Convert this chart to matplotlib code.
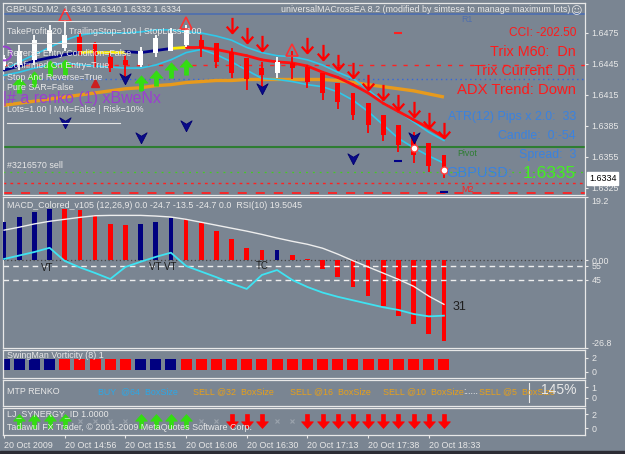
import matplotlib
matplotlib.use("Agg")
import matplotlib.pyplot as plt
import numpy as np
from matplotlib.path import Path
from matplotlib.patches import Rectangle
from matplotlib.lines import Line2D

plt.rcParams['font.family'] = ['Liberation Sans', 'DejaVu Sans']

# ---------------- data ----------------
opens  = [1.6443,1.6444,1.6449,1.6458,1.6460,1.6471,1.6465,1.6452,1.6449,1.6444,1.6456,1.6458,1.6463,1.6468,1.6465,
          1.6457,1.6451,1.6441,1.6436,1.6446,1.6442,1.6436,1.6427,1.6417,1.6407,1.6396,1.6386,1.6376,1.6369,1.6357]
highs  = [1.6454,1.6463,1.6473,1.6483,1.6488,1.6475,1.6466,1.6456,1.6454,1.6461,1.6473,1.6480,1.6483,1.6473,1.6465,
          1.6460,1.6451,1.6447,1.6452,1.6458,1.6444,1.6436,1.6427,1.6417,1.6407,1.6396,1.6386,1.6379,1.6369,1.6357]
lows   = [1.6439,1.6439,1.6444,1.6456,1.6458,1.6454,1.6442,1.6437,1.6432,1.6442,1.6452,1.6458,1.6461,1.6452,1.6441,
          1.6431,1.6420,1.6423,1.6431,1.6430,1.6422,1.6410,1.6401,1.6391,1.6378,1.6370,1.6360,1.6349,1.6340,1.6335]
closes = [1.6451,1.6458,1.6468,1.6478,1.6473,1.6458,1.6454,1.6441,1.6444,1.6458,1.6470,1.6475,1.6478,1.6460,1.6447,
          1.6436,1.6430,1.6434,1.6447,1.6441,1.6428,1.6417,1.6408,1.6396,1.6386,1.6376,1.6367,1.6357,1.6346,1.6340]

upper_band = [1.6439,1.6447,1.6454,1.6461,1.6468,1.6473,1.6475,1.6475,1.6475,1.6476,1.6478,1.6478,1.6476,1.6475,1.6472,
              1.6468,1.6461,1.6456,1.6453,1.6452,1.6449,1.6444,1.6437,1.6431,1.6420,1.6408,1.6399,1.6389,1.6379,1.6371]
lower_band = [1.6434,1.6437,1.6441,1.6444,1.6446,1.6444,1.6443,1.6442,1.6441,1.6441,1.6444,1.6449,1.6456,1.6459,1.6454,
              1.6447,1.6439,1.6431,1.6430,1.6428,1.6425,1.6423,1.6418,1.6410,1.6399,1.6386,1.6373,1.6364,1.6356,1.6349]
ma_line    = [1.6439,1.6443,1.6448,1.6451,1.6454,1.6456,1.6457,1.6457,1.6457,1.6456,1.6458,1.6460,1.6461,1.6461,1.6459,
              1.6456,1.6453,1.6449,1.6447,1.6446,1.6443,1.6437,1.6432,1.6425,1.6417,1.6407,1.6399,1.6391,1.6383,1.6374]
ma_state   = "NNNNNNYYYNNNYRRRRRRRRRRRRRRRRR"
orange_ma  = [1.6405,1.6407,1.6409,1.6411,1.6413,1.6415,1.6417,1.6419,1.6421,1.6422,1.6424,1.6425,1.6427,1.6428,1.6429,
              1.6429,1.6430,1.6430,1.6430,1.6430,1.6430,1.6430,1.6429,1.6427,1.6425,1.6423,1.6421,1.6419,1.6416,1.6413]

sell_idx   = [15,16,17,20,21,22,23,24,25,26,27,28,29]
sell_price = [1.6483,1.6473,1.6465,1.6463,1.6457,1.6447,1.6439,1.6428,1.6418,1.6408,1.6401,1.6391,1.6381]
buy_idx    = [1,2,3,4,9,10,11,12]
buy_price  = [1.6425,1.6430,1.6441,1.6442,1.6427,1.6431,1.6439,1.6442]
chev_idx   = [4,8,9,12,17,23,27]
chev_price = [1.6389,1.6431,1.6374,1.6386,1.6422,1.6354,1.6374]
tri_idx    = [4,12,19]
tri_price  = [1.6492,1.6485,1.6459]
tri2_idx   = [6]
tri2_price = [1.6427]
trade_idx  = [27,29]
trade_price= [1.6364,1.6342]
ring_idx   = [0]
ring_price = [1.6456]
rdash_idx, rdash_price = [26], [1.6475]
bdash_idx, bdash_price = [26,29], [1.6351,1.6321]

level_r1, level_red1, level_blue, level_pivot, level_open, level_red2, level_m2 = \
    1.6493, 1.6444, 1.6430, 1.6365, 1.6340, 1.6330, 1.6320
bid = 1.6334
price_ticks = [1.6475,1.6445,1.6415,1.6385,1.6355,1.6325]

macd   = [11.7,13.1,14.7,15.5,15.5,15.2,13.6,10.9,10.6,10.9,11.7,12.9,12.6,11.2,8.9,6.5,3.6,3.1,3.1,1.6,0.3,
          -2.7,-5.3,-8.3,-11.1,-14.1,-16.9,-19.6,-22.6,-24.7]
macd_col = "BBBBRRRRRBBBRRRRRRBRRRRRRRRRRR"
signal = [9.1,10.0,11.0,11.8,12.4,13.0,13.5,13.6,13.6,13.6,13.4,13.1,12.4,11.5,10.6,9.7,8.8,7.8,6.7,5.7,4.8,
          3.6,1.8,-0.2,-2.1,-4.0,-5.9,-8.0,-11.0,-13.5]
rsi    = [60,62.5,65,68,58.6,54,50,45.7,54.3,58,61.5,64.5,55,51,47,42.5,38.6,48.6,52.1,45,40,36,33,30.5,28,25.5,
          23.6,20.7,19.0,19.5]
swing_col = "BBBBRRRRRBBBRRRRRRRRRRRRRRRRRR"
synergy   = "-UUUUxxxxUUUUxxDDDxxDDDDDDDDDD"
time_idx    = [0,4,8,12,16,20,24,28]
time_labels = ["20 Oct 2009","20 Oct 14:56","20 Oct 15:51","20 Oct 16:06","20 Oct 16:30",
               "20 Oct 17:13","20 Oct 17:38","20 Oct 18:33"]

# ---------------- layout ----------------
W, H = 625, 454
BG = '#7a8592'
FG = '#e8e8e8'
fig = plt.figure(figsize=(W/100, H/100), dpi=100)
fig.patch.set_facecolor(BG)

def rect(x0, y0, x1, y1):
    return [x0/W, 1-y1/H, (x1-x0)/W, (y1-y0)/H]

def T(x, y, s, **kw):
    kw.setdefault('color', FG)
    kw.setdefault('fontsize', 6.4)
    kw.setdefault('va', 'center')
    return fig.text(x/W, 1-y/H, s, **kw)

def right_ticks(ax):
    ax.yaxis.tick_right()
    ax.tick_params(axis='y', left=False, labelleft=False, right=True, labelright=True,
                   colors=FG, labelsize=6.4, length=2, width=0.8, pad=2.5)

ax_main = fig.add_axes(rect(3, 3, 585, 195))
ax_macd = fig.add_axes(rect(3, 197, 585, 348))
ax_sw   = fig.add_axes(rect(3, 350, 585, 378))
ax_rk   = fig.add_axes(rect(3, 380, 585, 406))
ax_lj   = fig.add_axes(rect(3, 408, 585, 435))
XL = (-0.07, 38.3)
for ax in (ax_main, ax_macd, ax_sw, ax_rk, ax_lj):
    ax.set_facecolor(BG)
    ax.set_xlim(XL)
    for s in ax.spines.values():
        s.set_color(FG); s.set_linewidth(0.9)
    ax.tick_params(axis='x', bottom=False, labelbottom=False)
    right_ticks(ax)

x = np.arange(len(opens))

# ---- main price chart ----
ax = ax_main
ax.set_ylim(1.63182, 1.65040)
ax.set_yticks(price_ticks)
ax.set_yticklabels([f"{p:.4f}" for p in price_ticks])
ax.axhline(level_r1, color='#4f6fae', lw=1.3, zorder=1)
ax.axhline(level_red1, color='#ff2020', lw=1.0, ls=(0, (3, 5)), zorder=1)
ax.axhline(level_blue, color='#3366dd', lw=1.0, ls=(0, (1, 2.5)), zorder=1)
ax.axhline(level_pivot, color='#2e7d32', lw=1.5, zorder=1)
ax.axhline(level_open, color='#44cc22', lw=0.9, ls=(0, (1.5, 4)), zorder=1)
ax.axhline(level_red2, color='#ff2020', lw=1.0, ls=(0, (2, 3)), zorder=1)
ax.axhline(level_m2, color='#ff2020', lw=1.3, ls=(0, (5, 5)), zorder=1)

ax.plot(x, orange_ma, color='#e89a1c', lw=2.4, zorder=2, solid_capstyle='butt')
ax.plot(x, upper_band, color='#2fc8ea', lw=1.2, zorder=3)
ax.plot(x, lower_band, color='#2fc8ea', lw=1.2, zorder=3)
state_col = {'N': '#000088', 'Y': '#ffee00', 'R': '#ff1010'}
for i in range(len(x)-1):
    ax.plot([x[i], x[i+1]], [ma_line[i], ma_line[i+1]], color=state_col[ma_state[i+1]],
            lw=2.0, zorder=3, solid_capstyle='round')

for i in range(len(x)):
    up = closes[i] >= opens[i]
    col = 'white' if up else '#ff0000'
    ax.vlines(x[i], lows[i], highs[i], color=col, lw=1.3, zorder=4)
    ax.bar(x[i], max(abs(closes[i]-opens[i]), 0.00008), bottom=min(opens[i], closes[i]),
           width=0.32, color=col, linewidth=0, zorder=5)

down_path = Path([(0, 1), (0, -1), (-0.75, -0.15), (0, -1), (0.75, -0.15)],
                 [Path.MOVETO, Path.LINETO, Path.MOVETO, Path.LINETO, Path.LINETO])
up_fill = Path([(-0.28, -1), (0.28, -1), (0.28, 0.05), (0.85, 0.05), (0, 1), (-0.85, 0.05),
                (-0.28, 0.05), (-0.28, -1)])
down_fill = Path([(-0.28, 1), (0.28, 1), (0.28, -0.05), (0.85, -0.05), (0, -1), (-0.85, -0.05),
                  (-0.28, -0.05), (-0.28, 1)])
chev = Path([(0, -1), (0.9, 0.75), (0, 0.2), (-0.9, 0.75), (0, -1)])

ax.plot(sell_idx, sell_price, ls='none', marker=down_path, ms=11, mec='#ff0000', mfc='none', mew=1.6, zorder=6)
ax.plot(buy_idx, buy_price, ls='none', marker=up_fill, ms=11, mec='#33dd11', mfc='#33dd11', mew=0.5, zorder=6)
ax.plot(chev_idx, chev_price, ls='none', marker=chev, ms=9, mec='#000070', mfc='#0a0a8a', mew=0.6, zorder=6)
ax.plot(tri_idx, tri_price, ls='none', marker='^', ms=8, mec='#ff3030', mfc='none', mew=1.2, zorder=6)
ax.plot(tri2_idx, tri2_price, ls='none', marker='^', ms=6, mec='#cc2020', mfc='#cc2020', zorder=6)
ax.plot(trade_idx, trade_price, ls='none', marker='o', ms=5, mec='#ff4040', mfc='white', mew=1.0, zorder=7)
ax.plot(ring_idx, ring_price, ls='none', marker='o', ms=10, mec='#9a40d0', mfc='none', mew=1.4, zorder=7)
ax.plot(rdash_idx, rdash_price, ls='none', marker='_', ms=6, mec='#ff2020', mew=1.5, zorder=6)
ax.plot(bdash_idx, bdash_price, ls='none', marker='_', ms=6, mec='#000088', mew=1.5, zorder=6)

ax.annotate(f"{bid:.4f}", xy=(1, bid), xycoords=('axes fraction', 'data'), xytext=(3, 0),
            textcoords='offset points', va='center', ha='left', fontsize=6.4, color='black',
            bbox=dict(boxstyle='square,pad=0.2', fc='white', ec='white'), annotation_clip=False)

# ---- MACD / RSI ----
ax = ax_macd
ax.set_ylim(-26.8, 19.2)
cmap = {'B': '#000080', 'R': '#ff0000'}
ax.bar(x, macd, width=0.3, color=[cmap[c] for c in macd_col], linewidth=0, zorder=3)
ax.axhline(0, color='#454545', lw=0.9, ls=(0, (1, 2)), zorder=2)
ax.plot(x, signal, color='#eeeeee', lw=1.0, zorder=4)
ax_rsi = ax.twinx()
ax_rsi.set_xlim(XL)
ax_rsi.set_ylim(-3.6, 104.3)
for s in ax_rsi.spines.values():
    s.set_visible(False)
ax_rsi.axhline(55, color='#eeeeee', lw=1.0, ls=(0, (4, 3)), zorder=2)
ax_rsi.axhline(45, color='#eeeeee', lw=1.0, ls=(0, (4, 3)), zorder=2)
ax_rsi.plot(x, rsi, color='#3fe3f2', lw=1.3, zorder=5)
ax_rsi.set_yticks([55, 45])
ax_rsi.set_yticklabels(['55', '45'])
right_ticks(ax_rsi)
right_ticks(ax)
ax.set_yticks([19.2, 0, -26.8])
labs = ax.set_yticklabels(['19.2', '0.00', '-26.8'])
labs[0].set_va('top'); labs[2].set_va('bottom')

# ---- SwingMan ----
ax = ax_sw
ax.set_ylim(-0.86, 3.14)
ax.bar(x, 1.55, bottom=0.3, width=0.72, color=[cmap[c] for c in swing_col], linewidth=0)
ax.set_yticks([2, 0]); ax.set_yticklabels(['2', '0'])

# ---- Renko ----
ax = ax_rk
ax.set_ylim(-0.73, 1.64)
ax.set_yticks([1, 0]); ax.set_yticklabels(['1', '0'])

# ---- LJ Synergy ----
ax = ax_lj
ax.set_ylim(-1.0, 2.86)
ax.set_yticks([2, 0]); ax.set_yticklabels(['2', '0'])
ui = [i for i, c in enumerate(synergy) if c == 'U']
di = [i for i, c in enumerate(synergy) if c == 'D']
xi = [i for i, c in enumerate(synergy) if c == 'x']
ax.plot(ui, [1.0]*len(ui), ls='none', marker=up_fill, ms=10, mec='#33dd11', mfc='#33dd11', mew=0.5)
ax.plot(di, [1.0]*len(di), ls='none', marker=down_fill, ms=10, mec='#ff0000', mfc='#ff0000', mew=0.5)
ax.plot(xi, [1.0]*len(xi), ls='none', marker='x', ms=3, mec='#9aa3ad', mew=0.8)
ax.set_xticks(time_idx)
ax.set_xticklabels(time_labels, ha='left')
ax.tick_params(axis='x', bottom=True, labelbottom=True, colors=FG, labelsize=6.4, length=2.5, width=0.8, pad=1.5)

# ---------------- texts ----------------
T(6, 10, "GBPUSD.M2  1.6340 1.6340 1.6332 1.6334")
T(281, 10, "universalMACrossEA 8.2 (modified by simtese to manage maximum lots)")
T(570, 11, "\u263a", family='DejaVu Sans', fontsize=8)
T(7, 31, "TakeProfit=20 | TrailingStop=100 | StopLoss=100")
T(7, 53, "Reverse Entry Condition=False")
T(7, 65, "Confirmed On Entry=True")
T(7, 77, "Stop And Reverse=True")
T(7, 88, "Pure SAR=False")
T(3, 99, "|# a renko (1) xBweNx", color='#9b3fd0', fontsize=11.5)
T(7, 110, "Lots=1.00 | MM=False | Risk=10%")
T(7, 166, "#3216570 sell")
for yy in (21, 43, 123):
    fig.add_artist(Line2D([7/W, 120/W], [1-yy/H, 1-yy/H], color=FG, lw=0.8))

RED, BLUE = '#ff1a1a', '#3a82e0'
T(576, 33, "CCI: -202.50", color=RED, fontsize=8.6, ha='right')
T(576, 52, "Trix M60:  Dn", color=RED, fontsize=10.4, ha='right')
T(576, 71, "Trix Current: Dn", color=RED, fontsize=10.3, ha='right')
T(576, 90, "ADX Trend: Down", color=RED, fontsize=10.7, ha='right')
T(576, 117, "ATR(12) Pips x 2.0:  33", color=BLUE, fontsize=8.9, ha='right')
T(576, 136, "Candle:  0:-54", color=BLUE, fontsize=8.9, ha='right')
T(576, 155, "Spread:  3", color=BLUE, fontsize=8.9, ha='right')
T(446, 173, "GBPUSD:", color=BLUE, fontsize=10.5)
T(576, 173, "1.6335", color='#44ee22', fontsize=12.5, ha='right')
T(467, 19, "R1", color='#4f6fae', fontsize=6.4, ha='center')
T(467, 153, "Pivot", color='#2e7d32', fontsize=6.4, ha='center')
T(467, 189, "M2", color='#ff2020', fontsize=6.4, ha='center')

T(7, 205, "MACD_Colored_v105 (12,26,9) 0.0 -24.7 -13.5 -24.7 0.0  RSI(10) 19.5045")
DARK = '#1e1e1e'
T(41, 268, "VT", color=DARK, fontsize=7)
T(149, 267, "VT VT", color=DARK, fontsize=7)
T(256, 266, "TC", color=DARK, fontsize=7)
T(453, 307, "31", color=DARK, fontsize=9)

T(7, 355, "SwingMan Vorticity (8) 1")

ORG, CYN = '#e8a018', '#2aa8e8'
T(7, 392, "MTP RENKO")
T(98, 392, "BUY  @64  BoxSize", color=CYN)
T(193, 392, "SELL @32  BoxSize", color=ORG)
T(290, 392, "SELL @16  BoxSize", color=ORG)
T(383, 392, "SELL @10  BoxSize", color=ORG)
T(463, 392, ":.....", color=FG)
T(479, 392, "SELL @5  BoxSize", color=ORG)
T(576, 390, "145%", color=FG, fontsize=10, ha='right')
fig.add_artist(Line2D([529/W, 529/W], [1-383/H, 1-402/H], color=FG, lw=0.8))

T(7, 414, "LJ_SYNERGY_ID 1.0000")
T(7, 427, "Tadawul FX Trader, \u00a9 2001-2009 MetaQuotes Software Corp.")

fig.add_artist(Rectangle((0, 0), 1, 3/H, transform=fig.transFigure, color='#2c2c34', zorder=10))

fig.savefig("out.png", dpi=100, facecolor=BG)
